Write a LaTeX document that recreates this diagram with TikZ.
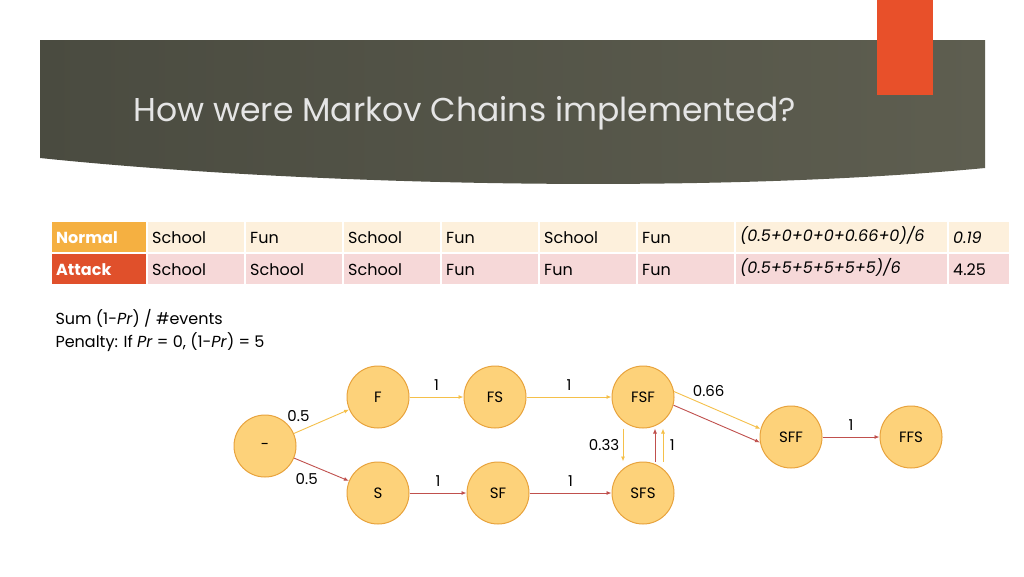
\documentclass[tikz,border=0pt]{standalone}
\usepackage{fontspec}
\setmainfont{Poppins}
\usetikzlibrary{arrows.meta,positioning}
\definecolor{banner}{HTML}{4A4B40}
\definecolor{bannerlight}{HTML}{5E5E50}
\definecolor{accent}{HTML}{E8502A}
\definecolor{normalc}{HTML}{F5B041}
\definecolor{normalrow}{HTML}{FDF0DC}
\definecolor{attackc}{HTML}{E0502B}
\definecolor{attackrow}{HTML}{F6D8D8}
\definecolor{statefill}{HTML}{FDD27A}
\definecolor{stateline}{HTML}{E8A33D}
\definecolor{normaledge}{HTML}{F5C04A}
\definecolor{attackedge}{HTML}{C0504D}
\begin{document}
\begin{tikzpicture}[
    x=1pt, y=-1pt,
    >={Latex[length=5pt,width=4pt]},
    % Styles
    state/.style={% chain states
        circle,
        draw=stateline,
        fill=statefill,
        line width=1pt,
        minimum size=62pt,
        inner sep=0pt,
        font=\fontsize{15}{18}\selectfont,
        },
    cellbox/.style={% table cells
        rectangle,
        anchor=north west,
        minimum height=30pt,
        inner sep=4pt,
        text height=12pt,
        font=\fontsize{16}{19}\selectfont,
        },
    weight/.style={% edge weights
        text=black,
        font=\fontsize{15}{18}\selectfont,
        },
    normal/.style={->, normaledge, line width=0.9pt},
    attack/.style={->, attackedge, line width=0.9pt},
    ]
    \useasboundingbox (0,0) rectangle (1024,576);
    \fill[white] (0,0) rectangle (1024,576);

    % Banner and title
    \shade[left color=banner, right color=bannerlight]
        (40,40) -- (985,40) -- (985,168) .. controls (700,195) and (300,185) .. (40,158) -- cycle;
    \fill[accent] (877,0) rectangle (933,95);
    \node[anchor=west, text=white!90!black, font=\fontsize{33}{40}\selectfont] (title) at (130,113) {How were Markov Chains implemented?};

    % Table
    \node[cellbox, fill=normalc, text=white, minimum width=94pt, text width=86pt, font=\bfseries\fontsize{16}{19}\selectfont] (n0) at (52,222) {Normal};
    \node[cellbox, fill=attackc, text=white, minimum width=94pt, text width=86pt, font=\bfseries\fontsize{16}{19}\selectfont] (a0) at (52,254) {Attack};
    \foreach \i/\x/\w/\nt/\at in {1/147/96/School/School, 2/245/96/Fun/School, 3/343/96/School/School,
        4/441/96/Fun/Fun, 5/539/96/School/Fun, 6/637/96/Fun/Fun,
        7/735/211/{\itshape(0.5+0+0+0+0.66+0)/6}/{\itshape(0.5+5+5+5+5+5)/6},
        8/948/60/{\itshape 0.19}/4.25}{
        \node[cellbox, fill=normalrow, minimum width=\w pt, text width=\w pt-8pt] (n\i) at (\x+1,222) {\nt};
        \node[cellbox, fill=attackrow, minimum width=\w pt, text width=\w pt-8pt] (a\i) at (\x+1,254) {\at};
    }

    % Formula
    \node[anchor=north west, align=left, font=\fontsize{16}{23}\selectfont] (note) at (52,306)
        {Sum (1-\textit{Pr}) / \#events\\Penalty: If \textit{Pr} = 0, (1-\textit{Pr}) = 5};

    % States
    \node[state] (start) at (265,446) {-};
    \node[state] (F) at (378,397) {F};
    \node[state] (FS) at (495,397) {FS};
    \node[state] (FSF) at (643,397) {FSF};
    \node[state] (S) at (378,493) {S};
    \node[state] (SF) at (498,493) {SF};
    \node[state] (SFS) at (643,493) {SFS};
    \node[state] (SFF) at (791,437) {SFF};
    \node[state] (FFS) at (911,437) {FFS};

    % Transitions
    \draw[normal] (start) -- (F) node[weight, pos=0.35, above left] {0.5};
    \draw[attack] (start) -- (S) node[weight, pos=0.5, below left] {0.5};
    \draw[normal] (F) -- (FS) node[weight, midway, above=3pt] {1};
    \draw[normal] (FS) -- (FSF) node[weight, midway, above=3pt] {1};
    \draw[attack] (S) -- (SF) node[weight, midway, above=3pt] {1};
    \draw[attack] (SF) -- (SFS) node[weight, midway, above=3pt] {1};
    \draw[normal] ([xshift=-20pt]FSF.south) -- ([xshift=-20pt]SFS.north) node[weight, midway, left] {0.33};
    \draw[attack] ([xshift=12pt]SFS.north) -- ([xshift=12pt]FSF.south);
    \draw[normal] ([xshift=20pt]SFS.north) -- ([xshift=20pt]FSF.south) node[weight, pos=0.5, right=3pt] {1};
    \draw[normal] (FSF.10) -- (SFF.165) node[weight, pos=0.4, above=6pt] {0.66};
    \draw[attack] (FSF.-15) -- (SFF.190);
    \draw[attack] (SFF) -- (FFS) node[weight, midway, above=3pt] {1};
\end{tikzpicture}
\end{document}
